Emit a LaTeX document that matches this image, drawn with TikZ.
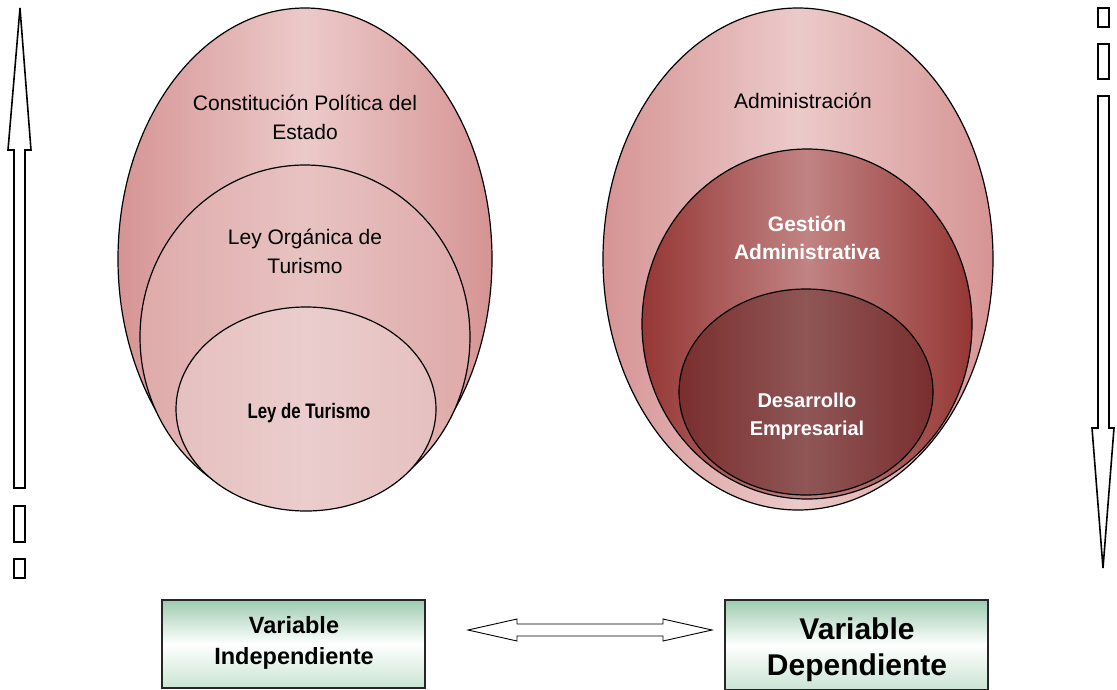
\documentclass[tikz,border=0pt]{standalone}
\usepackage{fontspec}
\setmainfont{Liberation Sans}
\usetikzlibrary{shapes.geometric}
\definecolor{pinkedge}{HTML}{D69494}
\definecolor{pinkmid}{HTML}{ECCACA}
\definecolor{midedge}{HTML}{DFAAAA}
\definecolor{midmid}{HTML}{E8C2C2}
\definecolor{inedge}{HTML}{E6C0C0}
\definecolor{inmid}{HTML}{EBCDCD}
\definecolor{gedge}{HTML}{953735}
\definecolor{gmid}{HTML}{C18383}
\definecolor{dedge}{HTML}{7A2E2E}
\definecolor{dmid}{HTML}{8F5656}
\definecolor{boxtop}{HTML}{9DCBAF}
\definecolor{boxbot}{HTML}{C9E4D3}
\tikzset{
  oval/.style={ellipse, draw=black, line width=1.2pt, inner sep=0pt},
  lbl/.style={align=center, font=\fontsize{21}{29}\selectfont, text=black},
  wlbl/.style={align=center, font=\bfseries\fontsize{21}{28}\selectfont, text=white},
  varbox/.style={draw=black!85, line width=2pt, top color=boxtop, bottom color=boxbot, middle color=white, inner sep=0pt},
  arrowshape/.style={draw=black, line width=1.6pt, fill=white, line join=miter},
  dbl/.style={draw=black, line width=0.9pt, fill=white}
}
\begin{document}
\begin{tikzpicture}[x=1pt,y=-1pt]
\useasboundingbox (0,0) rectangle (1117,689);
% left ellipses
\node[oval, minimum width=374pt, minimum height=502pt, left color=pinkedge, right color=pinkedge, middle color=pinkmid] (lo) at (305,259) {};
\node[oval, minimum width=330pt, minimum height=344pt, left color=midedge, right color=midedge, middle color=midmid] (lm) at (305,337) {};
\node[oval, minimum width=260pt, minimum height=204pt, left color=inedge, right color=inedge, middle color=inmid] (li) at (306,409) {};
\node[lbl] (t1) at (305,117) {Constitución Política del\\Estado};
\node[lbl] (t2) at (305,251) {Ley Orgánica de\\Turismo};
\node[font=\bfseries\fontsize{21}{24}\selectfont] (t3) at (309,413) {\scalebox{0.8}[1]{Ley de Turismo}};
% right ellipses
\node[oval, minimum width=390pt, minimum height=502pt, left color=pinkedge, right color=pinkedge, middle color=pinkmid] (ro) at (798,259) {};
\node[oval, minimum width=330pt, minimum height=350pt, left color=gedge, right color=gedge, middle color=gmid] (rm) at (807,324) {};
\node[oval, minimum width=254pt, minimum height=206pt, left color=dedge, right color=dedge, middle color=dmid] (ri) at (806,392) {};
\node[lbl] (t4) at (803,101) {Administración};
\node[wlbl] (t5) at (807,238) {Gestión\\Administrativa};
\node[wlbl, font=\bfseries\fontsize{20}{28}\selectfont] (t6) at (807,416) {Desarrollo\\Empresarial};
% left vertical arrow
\draw[arrowshape] (20,8) -- (31,150) -- (25,150) -- (25,488) -- (14,488) -- (14,150) -- (8,150) -- cycle;
\draw[arrowshape] (14,506) rectangle (25,542);
\draw[arrowshape] (14,559) rectangle (25,578);
% right vertical arrow
\draw[arrowshape] (1098,8) rectangle (1109,27);
\draw[arrowshape] (1098,44) rectangle (1109,79);
\draw[arrowshape] (1098,96) -- (1098,428) -- (1092,428) -- (1103,568) -- (1114,428) -- (1109,428) -- (1109,96) -- cycle;
% boxes
\node[varbox, minimum width=263pt, minimum height=88pt] (vi) at (293.5,644) {};
\node[align=center, font=\bfseries\fontsize{23.5}{31}\selectfont] (vit) at (294,643) {Variable\\Independiente};
\node[varbox, minimum width=263pt, minimum height=90pt] (vd) at (856.5,645) {};
\node[align=center, font=\bfseries\fontsize{30}{36}\selectfont] (vdt) at (857,650) {Variable\\Dependiente};
% double arrow between boxes
\coordinate (dl) at (468,630);
\coordinate (dr) at (712,630);
\draw[dbl] (dl) -- (517,619) -- (517,624) -- (663,624) -- (663,619) -- (dr) -- (663,641) -- (663,636) -- (517,636) -- (517,641) -- cycle;
\end{tikzpicture}
\end{document}
